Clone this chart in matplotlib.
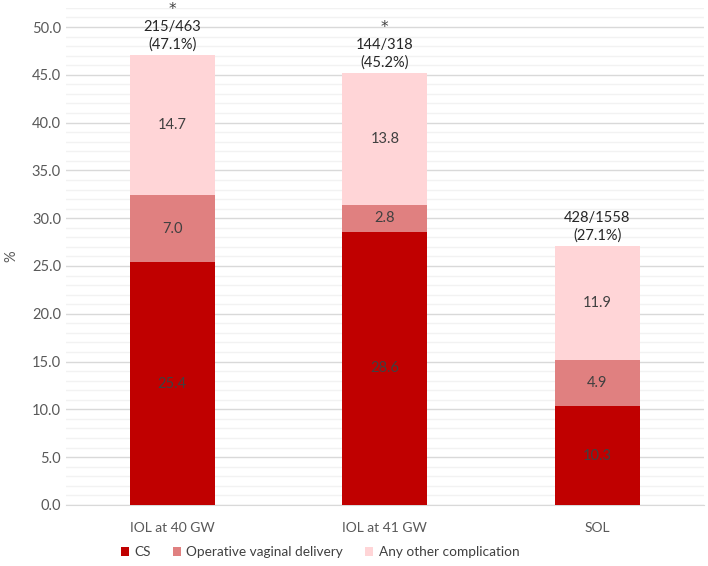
import matplotlib.pyplot as plt
import numpy as np
from matplotlib.ticker import MultipleLocator, FormatStrFormatter

plt.rcParams['font.family'] = ['Lato', 'DejaVu Sans']

groups = ['IOL at 40 GW', 'IOL at 41 GW', 'SOL']
cs = [25.4, 28.6, 10.3]
ovd = [7.0, 2.8, 4.9]
other = [14.7, 13.8, 11.9]
counts = ['215/463', '144/318', '428/1558']
totals = [47.1, 45.2, 27.1]
stars = ['*', '*', '']

series = [('CS', cs, '#C00000'),
          ('Operative vaginal delivery', ovd, '#E08080'),
          ('Any other complication', other, '#FFD5D7')]

fig = plt.figure(figsize=(7.08, 5.66), dpi=100)
ax = fig.add_axes([0.093, 0.108, 0.901, 0.878])

x = np.arange(len(groups))
bottom = np.zeros(len(groups))
for name, vals, col in series:
    ax.bar(x, vals, 0.4, bottom=bottom, color=col, label=name, zorder=3)
    for xi, b, v in zip(x, bottom, vals):
        ax.text(xi, b + v / 2, f"{v:.1f}", ha='center', va='center',
                fontsize=10.5, color='#404040', zorder=4)
    bottom += np.array(vals)

for xi, t, c, s in zip(x, totals, counts, stars):
    ax.annotate(f"{c}\n({t:.1f}%)", (xi, t), xytext=(0, 2), textcoords='offset points',
                ha='center', va='bottom', fontsize=10.5, color='#262626', linespacing=1.3)
    if s:
        ax.annotate(s, (xi, t), xytext=(0, 27), textcoords='offset points',
                    ha='center', va='bottom', fontsize=11, color='#404040',
                    family='DejaVu Sans')

ax.set_xlim(-0.5, 2.5)
ax.set_ylim(0, 52)
ax.yaxis.set_major_locator(MultipleLocator(5))
ax.yaxis.set_minor_locator(MultipleLocator(1))
ax.yaxis.set_major_formatter(FormatStrFormatter('%.1f'))
ax.grid(axis='y', which='major', color='#D9D9D9', linewidth=1, zorder=0)
ax.grid(axis='y', which='minor', color='#F2F2F2', linewidth=1, zorder=0)
for sp in ['top', 'right', 'left']:
    ax.spines[sp].set_visible(False)
ax.spines['bottom'].set_color('#D9D9D9')
ax.tick_params(axis='both', which='both', length=0, labelsize=10.5, colors='#595959')
ax.tick_params(axis='x', pad=12, labelsize=10)
ax.set_xticks(x)
ax.set_xticklabels(groups)
ax.set_ylabel('%', fontsize=10.5, color='#595959', labelpad=10)

leg = fig.legend(loc='lower center', bbox_to_anchor=(0.452, -0.008), ncol=3, frameon=False,
                 fontsize=9.8, handlelength=0.6, handleheight=0.6, handletextpad=0.4,
                 columnspacing=1.6)
for t in leg.get_texts():
    t.set_color('#404040')

fig.savefig('out.png', dpi=100)
